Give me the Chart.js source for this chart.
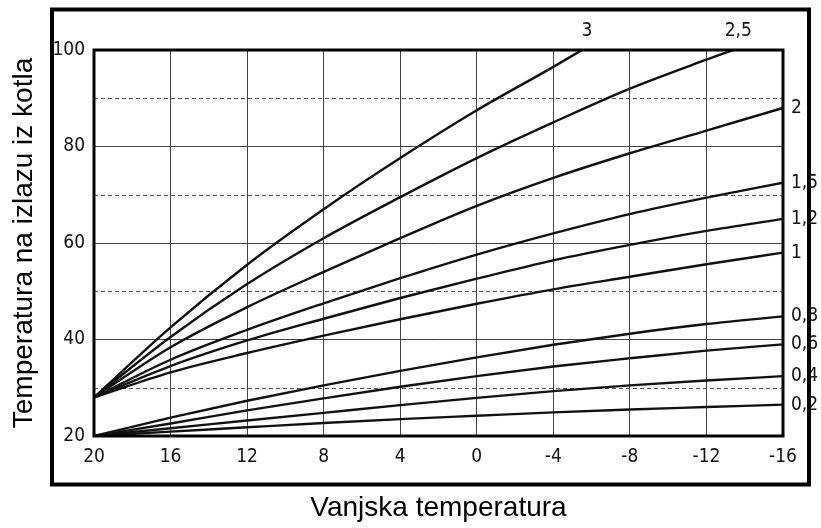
<!DOCTYPE html>
<html lang="hr">
<head>
  <meta charset="UTF-8" />
  <title>Krivulje grijanja</title>
  <script src="https://cdn.jsdelivr.net/npm/chart.js"></script>
  <style>
    html, body { margin: 0; padding: 0; background: #fff; }
    canvas { display: block; }
  </style>
</head>
<body>
  <canvas id="krivulje" width="821" height="528"></canvas>

  <script>
    // vanjska temperatura (°C) - točke očitanja
    const vanjskaTemp = [20, 16, 12, 8, 4, 0, -4, -8, -12, -16];

    // nagibi krivulja
    const nagibi = ['3', '2,5', '2', '1,5', '1,2', '1', '0,8', '0,6', '0,4', '0,2'];

    // temperatura polaza za svaki nagib
    const krivulja30 = [28, 42.5, 55.5, 67, 77.6, 87.5, 96.5];
    const krivulja25 = [28, 40.5, 51.5, 61, 69.5, 77.6, 85, 92, 98];
    const krivulja20 = [28, 38.4, 46.7, 54, 61, 67.7, 73.5, 78.6, 83.3, 88];
    const krivulja15 = [28, 35.8, 42, 47.5, 52.7, 57.6, 62, 66, 69.4, 72.5];
    const krivulja12 = [28, 34.5, 39.8, 44.3, 48.6, 52.6, 56.4, 59.6, 62.5, 65];
    const krivulja10 = [28, 33.2, 37.2, 40.8, 44.2, 47.4, 50.4, 53, 55.6, 58];
    const krivulja08 = [20, 23.8, 27.3, 30.5, 33.5, 36.3, 38.9, 41.2, 43.2, 44.8];
    const krivulja06 = [20, 22.6, 25.3, 27.8, 30.2, 32.4, 34.4, 36.1, 37.7, 39];
    const krivulja04 = [20, 21.6, 23.2, 24.8, 26.4, 27.9, 29.3, 30.5, 31.5, 32.4];
    const krivulja02 = [20, 20.9, 21.8, 22.7, 23.5, 24.2, 24.9, 25.5, 26, 26.5];

    // gdje strme krivulje dosegnu 100 °C
    const krajKrivulje30 = [-5.5, 100];
    const krajKrivulje25 = [-13.4, 100];

    const yTicks = [20, 40, 60, 80, 100];
    const yIsprekidane = [30, 50, 70, 90];

    function tocke(vrijednosti, kraj) {
      const t = vrijednosti.map((v, i) => ({ x: vanjskaTemp[i], y: v }));
      if (kraj) t.push({ x: kraj[0], y: kraj[1] });
      return t;
    }

    const sveKrivulje = [
      tocke(krivulja30, krajKrivulje30),
      tocke(krivulja25, krajKrivulje25),
      tocke(krivulja20),
      tocke(krivulja15),
      tocke(krivulja12),
      tocke(krivulja10),
      tocke(krivulja08),
      tocke(krivulja06),
      tocke(krivulja04),
      tocke(krivulja02)
    ];

    const uskiFont = '"Liberation Sans Narrow", "Arial Narrow", "DejaVu Sans Condensed", sans-serif';

    // okvir, isprekidane linije i oznake nagiba
    const crtez = {
      id: 'crtez',
      beforeDatasetsDraw(chart) {
        const { ctx, chartArea: a, scales: { y } } = chart;
        ctx.save();
        ctx.strokeStyle = '#555';
        ctx.lineWidth = 1;
        ctx.setLineDash([4, 3]);
        yIsprekidane.forEach(v => {
          const py = Math.round(y.getPixelForValue(v)) + 0.5;
          ctx.beginPath();
          ctx.moveTo(a.left, py);
          ctx.lineTo(a.right, py);
          ctx.stroke();
        });
        ctx.restore();
      },
      afterDraw(chart) {
        const { ctx, chartArea: a, scales: { x, y } } = chart;
        ctx.save();
        ctx.strokeStyle = '#000';
        ctx.lineWidth = 3;
        ctx.strokeRect(a.left, a.top, a.right - a.left, a.bottom - a.top);
        ctx.lineWidth = 4;
        ctx.strokeRect(52, 9.5, 757, 475);

        ctx.fillStyle = '#111';
        ctx.font = '19px ' + uskiFont;
        ctx.textBaseline = 'middle';
        chart.data.datasets.forEach((ds, i) => {
          const zadnja = ds.data[ds.data.length - 1];
          const px = x.getPixelForValue(zadnja.x);
          const py = y.getPixelForValue(zadnja.y);
          if (zadnja.y >= 100) {
            ctx.textAlign = 'center';
            ctx.fillText(nagibi[i], px + 5, a.top - 19);
          } else {
            ctx.textAlign = 'left';
            ctx.fillText(nagibi[i], a.right + 8, py);
          }
        });
        ctx.restore();
      }
    };

    new Chart(document.getElementById('krivulje'), {
      type: 'line',
      data: {
        datasets: sveKrivulje.map((d, i) => ({
          label: nagibi[i],
          data: d,
          borderColor: '#111',
          borderWidth: 2.4,
          pointRadius: 0,
          fill: false,
          cubicInterpolationMode: 'monotone'
        }))
      },
      options: {
        responsive: false,
        animation: false,
        layout: { padding: { left: 0, top: 50, right: 38, bottom: 0 } },
        plugins: {
          legend: { display: false },
          tooltip: { enabled: false }
        },
        scales: {
          x: {
            type: 'linear',
            reverse: true,
            min: -16,
            max: 20,
            afterFit(scale) { scale.height = 92; },
            ticks: {
              stepSize: 4,
              color: '#111',
              padding: 10,
              maxRotation: 0,
              font: { family: uskiFont, size: 19 }
            },
            grid: { color: '#444', lineWidth: 1, drawTicks: false },
            border: { display: false },
            title: {
              display: true,
              text: 'Vanjska temperatura',
              color: '#000',
              font: { family: '"Liberation Sans", Arial, sans-serif', size: 28, lineHeight: 1.2 },
              padding: { top: 0, bottom: 3 }
            }
          },
          y: {
            min: 20,
            max: 100,
            afterFit(scale) { scale.width = 94; },
            ticks: {
              stepSize: 10,
              color: '#111',
              padding: 9,
              font: { family: uskiFont, size: 19 },
              callback: v => (yTicks.includes(v) ? v : '')
            },
            grid: {
              color: ctx => (yTicks.includes(ctx.tick.value) ? '#444' : 'rgba(0,0,0,0)'),
              lineWidth: 1,
              drawTicks: false
            },
            border: { display: false },
            title: {
              display: true,
              text: 'Temperatura na izlazu iz kotla',
              color: '#000',
              font: { family: '"Liberation Sans", Arial, sans-serif', size: 28, lineHeight: 1.2 },
              padding: { top: 7, bottom: 0 }
            }
          }
        }
      },
      plugins: [crtez]
    });
  </script>
</body>
</html>
